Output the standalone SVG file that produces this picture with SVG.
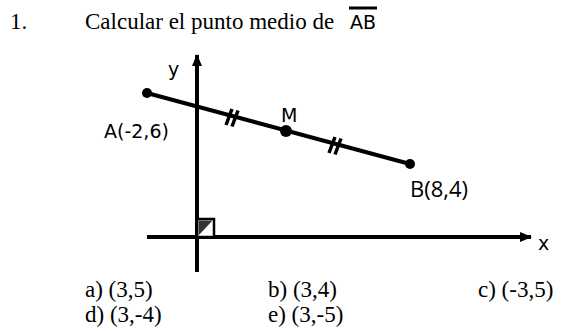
<svg xmlns="http://www.w3.org/2000/svg" width="570" height="333" viewBox="0 0 570 333">
<defs>
<marker id="arr" viewBox="0 0 12 10" refX="11" refY="5" markerWidth="12" markerHeight="10" markerUnits="userSpaceOnUse" orient="auto">
<path d="M0,0 L12,5 L0,10 Z" fill="#000"/>
</marker>
</defs>
<style>
.t{font-family:"Liberation Serif","Times New Roman",serif;font-size:23px;fill:#000}
.c{font-family:"DejaVu Sans","Liberation Sans",sans-serif;font-size:19px;fill:#000}
.s{font-family:"Open Sans","Liberation Sans",sans-serif;font-size:22px;fill:#000}
.ax{stroke:#000;stroke-width:4;fill:none}
.seg{stroke:#000;stroke-width:4;fill:none}
.tk{stroke:#000;stroke-width:3.5;fill:none}
.pt{fill:#000}
</style>
<rect width="570" height="333" fill="#fff"/>
<g id="title">
<text class="t" x="10" y="29">1.</text>
<text class="t" x="85" y="29">Calcular el punto medio de</text>
<text class="c" x="350" y="29">AB</text>
<line x1="349" y1="8" x2="377" y2="8" stroke="#000" stroke-width="3"/>
</g>
<g id="connectors">
<line class="ax" x1="197" y1="272" x2="197" y2="55" marker-end="url(#arr)"/>
<line class="ax" x1="147" y1="237" x2="531" y2="237" marker-end="url(#arr)"/>
<line class="seg" x1="147" y1="93" x2="410" y2="164"/>
<path class="tk" d="M226,125 L232,109 M232,126.5 L238,110.5"/>
<path class="tk" d="M329,153 L335,137 M335,154.5 L341,138.5"/>
</g>
<g id="right-angle">
<rect x="197" y="219" width="17" height="18" fill="#fff" stroke="#000" stroke-width="2.5"/>
<path d="M198.5,220.5 L212.5,220.5 L198.5,235.5 Z" fill="#333"/>
</g>
<g id="node-A">
<circle class="pt" cx="147" cy="93" r="5"/>
<text class="c" x="104" y="138">A(-2,6)</text>
</g>
<g id="node-M">
<circle class="pt" cx="286" cy="131" r="6"/>
<text class="c" x="281" y="122">M</text>
</g>
<g id="node-B">
<circle class="pt" cx="410" cy="164" r="5"/>
<text class="s" x="410" y="197">B(8,4)</text>
</g>
<g id="axis-labels">
<text class="c" x="168" y="76">y</text>
<text class="c" x="538" y="250">x</text>
</g>
<g id="answers">
<text class="t" x="85" y="297">a) (3,5)</text>
<text class="t" x="268" y="297">b) (3,4)</text>
<text class="t" x="478" y="297">c) (-3,5)</text>
<text class="t" x="85" y="322">d) (3,-4)</text>
<text class="t" x="268" y="322">e) (3,-5)</text>
</g>
</svg>
